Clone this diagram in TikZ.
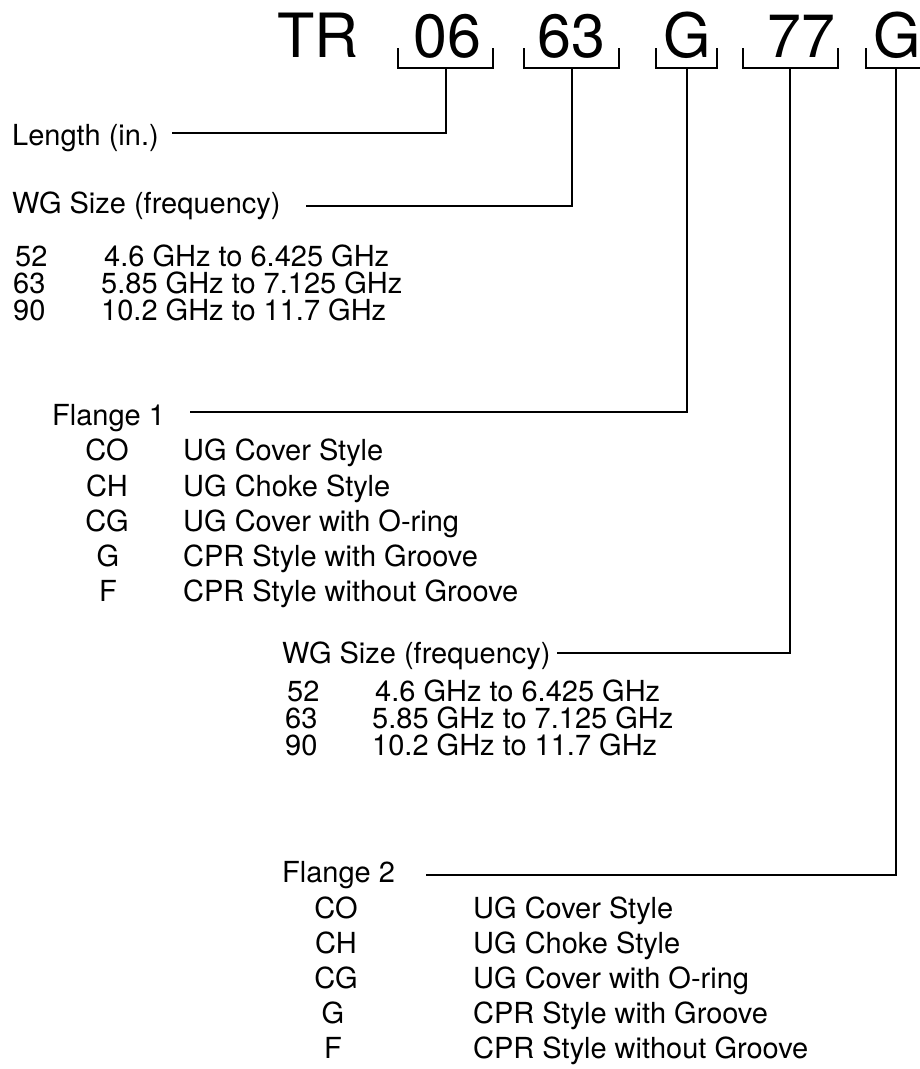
\documentclass[tikz,border=0pt]{standalone}
\usepackage{fontspec}
\setmainfont{TeX Gyre Heros}
\begin{document}
\begin{tikzpicture}[x=1pt,y=-1pt,
  txt/.style={inner sep=0pt, anchor=base west, font=\fontsize{29}{29}\selectfont},
  code/.style={inner sep=0pt, anchor=base, font=\fontsize{29}{29}\selectfont},
  big/.style={inner sep=0pt, anchor=base west, font=\fontsize{61}{61}\selectfont},
  lead/.style={line width=1.8pt, line join=miter},
  brk/.style={line width=1.8pt, line join=miter}]
\useasboundingbox (0,0) rectangle (920,1069);

% part number
\node[big] (tr)  at (277,57) {TR};
\node[big] (p06) at (413,57) {06};
\node[big] (p63) at (537,57) {63};
\node[big] (pg1) at (663,57) {G};
\node[big] (p77) at (767,57) {77};
\node[big] (pg2) at (873,57) {G};

% brackets
\draw[brk] (398,48) -- (398,68) -- (493,68) -- (493,48);
\draw[brk] (524,48) -- (524,68) -- (619,68) -- (619,48);
\draw[brk] (656,48) -- (656,68) -- (717,68) -- (717,48);
\draw[brk] (743,48) -- (743,68) -- (838,68) -- (838,48);
\draw[brk] (866,48) -- (866,68) -- (926,68) -- (926,48);
\coordinate (s1) at (446,68);
\coordinate (s2) at (572,68);
\coordinate (s3) at (687,68);
\coordinate (s4) at (790,68);
\coordinate (s5) at (896,68);

% Length
\node[txt] (len) at (12,145) {Length (in.)};

% WG size 1
\node[txt] (wg1) at (12,213) {WG Size (frequency)};
\node[txt] (a52) at (15,266) {52};
\node[txt] (a63) at (13,293) {63};
\node[txt] (a90) at (13,320) {90};
\node[txt] (d52) at (104,266) {4.6 GHz to 6.425 GHz};
\node[txt] (d63) at (101,293) {5.85 GHz to 7.125 GHz};
\node[txt] (d90) at (101,320) {10.2 GHz to 11.7 GHz};

% Flange 1
\node[txt] (fl1) at (52,425) {Flange 1};
\node[code] (fco) at (107,460) {CO};
\node[code] (fch) at (107,496) {CH};
\node[code] (fcg) at (107,531) {CG};
\node[code] (fg)  at (108,566) {G};
\node[code] (ff)  at (108,601) {F};
\node[txt] (gco) at (183,460) {UG Cover Style};
\node[txt] (gch) at (183,496) {UG Choke Style};
\node[txt] (gcg) at (183,531) {UG Cover with O-ring};
\node[txt] (gg)  at (183,566) {CPR Style with Groove};
\node[txt] (gf)  at (183,601) {CPR Style without Groove};

% WG size 2
\node[txt] (wg2) at (282,663) {WG Size (frequency)};
\node[txt] (b52) at (287,701) {52};
\node[txt] (b63) at (285,728) {63};
\node[txt] (b90) at (285,755) {90};
\node[txt] (e52) at (375,701) {4.6 GHz to 6.425 GHz};
\node[txt] (e63) at (372,728) {5.85 GHz to 7.125 GHz};
\node[txt] (e90) at (372,755) {10.2 GHz to 11.7 GHz};

% Flange 2
\node[txt] (fl2) at (282,882) {Flange 2};
\node[code] (hco) at (336,918) {CO};
\node[code] (hch) at (336,953) {CH};
\node[code] (hcg) at (336,988) {CG};
\node[code] (hg)  at (333,1023) {G};
\node[code] (hf)  at (333,1058) {F};
\node[txt] (ico) at (473,918) {UG Cover Style};
\node[txt] (ich) at (473,953) {UG Choke Style};
\node[txt] (icg) at (473,988) {UG Cover with O-ring};
\node[txt] (ig)  at (473,1023) {CPR Style with Groove};
\node[txt] (if)  at (473,1058) {CPR Style without Groove};

% leaders
\draw[lead] (s1) |- ([xshift=13pt,yshift=12pt]len.base east);
\draw[lead] (s2) |- ([xshift=25pt,yshift=7pt]wg1.base east);
\draw[lead] (s3) |- ([xshift=25pt,yshift=13pt]fl1.base east);
\draw[lead] (s4) |- ([xshift=6pt,yshift=10pt]wg2.base east);
\draw[lead] (s5) |- ([xshift=31pt,yshift=7pt]fl2.base east);
\end{tikzpicture}
\end{document}
